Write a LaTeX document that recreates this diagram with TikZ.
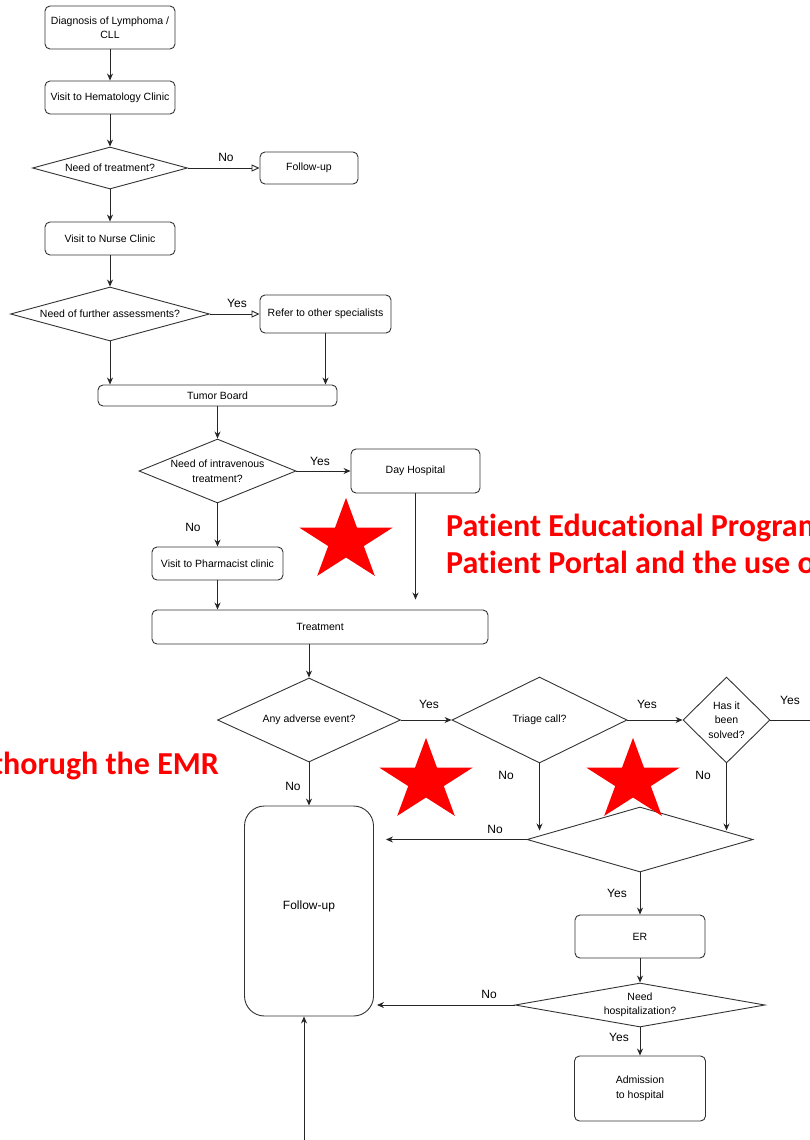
\documentclass[tikz,border=0pt]{standalone}
\usepackage{fontspec}
\setmainfont{Liberation Sans}
\newfontfamily\notefont[Ligatures=NoCommon]{Carlito}
\usetikzlibrary{shapes.geometric,arrows.meta}

\begin{document}
\begin{tikzpicture}[x=1pt,y=-1pt]
\tikzset{box/.style = {draw=black!80, rounded corners=5pt, line width=0.9pt, fill=white, inner sep=2pt, align=center, font=\fontsize{10.5}{14.5}\selectfont},
  dec/.style = {draw=black!80, shape=diamond, line width=0.9pt, inner sep=0pt, align=center, font=\fontsize{10.5}{14.5}\selectfont},
  lbl/.style = {inner sep=0pt, font=\fontsize{12}{14}\selectfont},
  arr/.style = {draw=black!85, line width=0.9pt, -{Stealth[length=7pt,width=6pt]}},
  oarr/.style = {draw=black!85, line width=0.9pt, -{Triangle[open,length=8pt,width=7pt]}},
  redstar/.style = {star, star points=5, star point ratio=2.618, fill=red, draw=none, minimum size=98pt, inner sep=0pt, yscale=0.88},
  note/.style = {red, inner sep=0pt, font=\notefont\bfseries\fontsize{32}{38}\selectfont}}

\useasboundingbox (0,0) rectangle (810,1140);

% upper part
\node[box, minimum width=130pt, minimum height=43pt] (diag) at (110,27.5) {Diagnosis of Lymphoma /\\CLL};
\node[box, minimum width=130pt, minimum height=33pt] (hema) at (110,97.5) {Visit to Hematology Clinic};
\node[dec, minimum width=155pt, minimum height=42pt, aspect=3.69] (needtr) at (110,168) {Need of treatment?};
\node[box, minimum width=98pt, minimum height=32pt] (fu1) at (309,168) {Follow-up};
\node[box, minimum width=130pt, minimum height=33pt] (nurse) at (110,238.5) {Visit to Nurse Clinic};
\node[dec, minimum width=199pt, minimum height=54pt, aspect=3.69] (further) at (110,314) {Need of further assessments?};
\node[box, minimum width=131pt, minimum height=38pt] (refer) at (325.5,314) {Refer to other specialists};
\node[box, minimum width=239pt, minimum height=21pt] (tumor) at (217.5,395.5) {Tumor Board};
\node[dec, minimum width=157pt, minimum height=64pt, aspect=2.45] (iv) at (217.5,471) {Need of intravenous\\treatment?};
\node[box, minimum width=129pt, minimum height=44pt] (dayh) at (415.5,471) {Day Hospital};
\node[box, minimum width=131pt, minimum height=33pt] (pharm) at (217.5,563.5) {Visit to Pharmacist clinic};
\node[box, minimum width=336pt, minimum height=34pt] (treat) at (320,627) {Treatment};

% lower part
\node[dec, minimum width=183pt, minimum height=84pt, aspect=2.18] (adverse) at (309,720) {Any adverse event?};
\node[dec, minimum width=175pt, minimum height=86pt, aspect=2.03] (triage) at (539.5,720) {Triage call?};
\node[dec, minimum width=87pt, minimum height=86pt, aspect=1] (solved) at (726.5,720) {Has it\\been\\solved?};
\node[dec, minimum width=226pt, minimum height=65pt, aspect=3.5] (blank) at (640,839.5) {};
\node[box, rounded corners=20pt, minimum width=129pt, minimum height=210pt, font=\fontsize{12}{14}\selectfont] (fu2) at (309,911) {Follow-up\\[-2pt]};
\node[box, minimum width=130pt, minimum height=43pt] (er) at (640,936.5) {ER};
\node[dec, minimum width=250pt, minimum height=44pt, aspect=5.68] (hosp) at (640,1005) {Need\\hospitalization?};
\node[box, minimum width=131pt, minimum height=65pt] (adm) at (640,1088.5) {Admission\\to hospital};
\coordinate (out) at (815,720);
\coordinate (in) at (304,1145);

\draw[arr] (diag) -- (hema);
\draw[arr] (hema) -- (needtr);
\draw[oarr] (needtr) -- (fu1);
\draw[arr] (needtr) -- (nurse);
\draw[arr] (nurse) -- (further);
\draw[oarr] (further) -- (refer);
\draw[arr] (further.south) -- (further.south |- tumor.north);
\draw[arr] (refer) -- (refer |- tumor.north);
\draw[arr] (tumor) -- (iv);
\draw[arr] (iv) -- (dayh);
\draw[arr] (iv) -- (pharm);
\draw[arr, shorten >=10pt] (dayh) -- (dayh |- treat.north);
\draw[arr] (pharm) -- (pharm |- treat.north);
\draw[arr] (treat.south -| adverse) -- (adverse);
\draw[arr] (adverse) -- (triage);
\draw[arr] (triage) -- (solved);
\draw[draw=black!85, line width=0.9pt] (solved) -- (out);
\draw[arr] (adverse) -- (fu2);
\draw[arr, shorten >=9pt] (triage.south) -- (triage.south |- blank.west);
\draw[arr, shorten >=9pt] (solved.south) -- (solved.south |- blank.west);
\draw[arr, shorten >=12pt] (blank.west) -- (blank.west -| fu2.east);
\draw[arr] (blank) -- (er);
\draw[arr] (er) -- (hosp);
\draw[arr] (hosp) -- (adm);
\draw[arr, shorten >=3pt] (hosp.west) -- (hosp.west -| fu2.east);
\draw[arr] (in) -- (in |- fu2.south);

% labels
\node[lbl] (l1) at (226,157) {No};
\node[lbl] (l2) at (237,303) {Yes};
\node[lbl] (l3) at (320,461) {Yes};
\node[lbl] (l4) at (193,527) {No};
\node[lbl] (l5) at (429,704) {Yes};
\node[lbl] (l6) at (647,704) {Yes};
\node[lbl] (l7) at (790,700) {Yes};
\node[lbl] (l8) at (293,786) {No};
\node[lbl] (l9) at (506,775) {No};
\node[lbl] (l10) at (703,775) {No};
\node[lbl] (l11) at (495,829) {No};
\node[lbl] (l12) at (617,893) {Yes};
\node[lbl] (l13) at (489,994) {No};
\node[lbl] (l14) at (619,1037) {Yes};

% stars and notes
\node[redstar] (s1) at (346,541) {};
\node[redstar] (s2) at (426,781) {};
\node[redstar] (s3) at (633,781) {};
\node[note, anchor=base west] (prog) at (446,536) {Patient Educational Program};
\node[note, anchor=base west] (portal) at (446,573) {Patient Portal and the use of};
\node[note, anchor=base east] (emr) at (219,774) {thorugh the EMR};

\end{tikzpicture}
\end{document}
